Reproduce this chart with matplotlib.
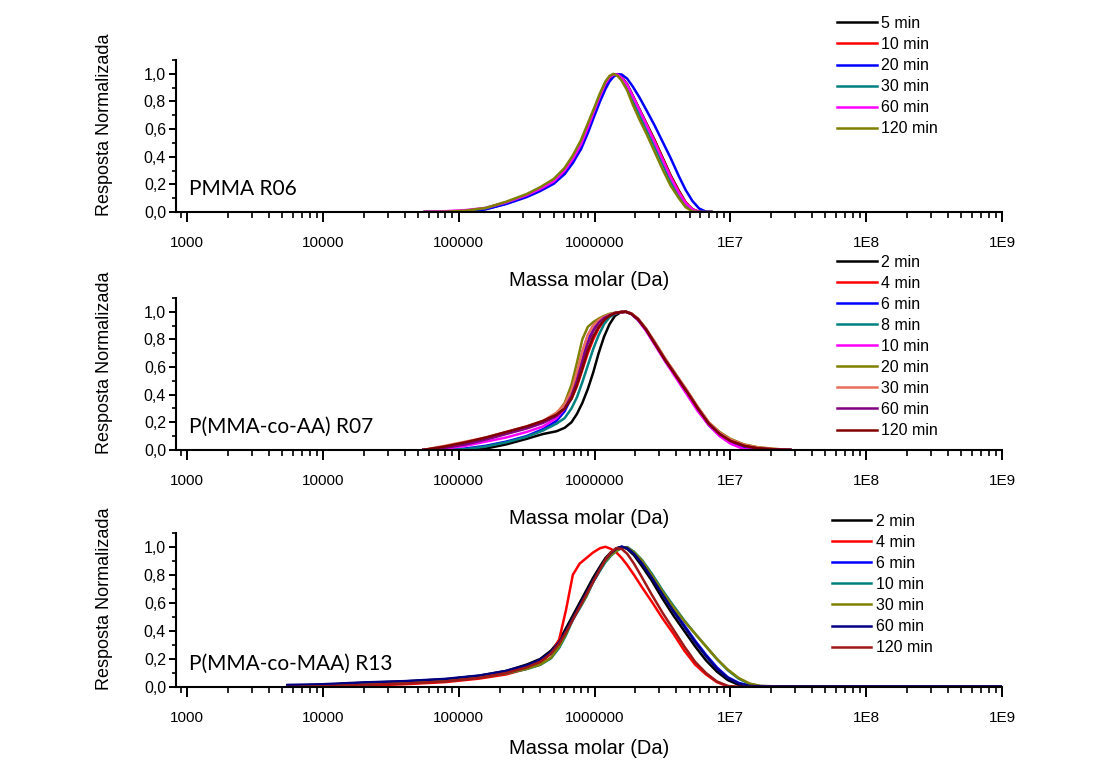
import numpy as np
import matplotlib
matplotlib.use("Agg")
import matplotlib.pyplot as plt
from matplotlib.ticker import LogLocator, FixedLocator, MultipleLocator, FuncFormatter, NullFormatter

plt.rcParams['font.family'] = ['Liberation Sans', 'DejaVu Sans']

# ---------------- Data (x in log10 of molar mass, Da) ----------------
# Panel 1: PMMA R06
logM_r06 = [4.75, 4.90, 5.05, 5.20, 5.35, 5.50, 5.60, 5.70, 5.78, 5.84, 5.90, 5.95,
            6.00, 6.04, 6.08, 6.11, 6.14, 6.17, 6.20, 6.24, 6.28, 6.33, 6.38, 6.44,
            6.50, 6.56, 6.62, 6.67, 6.72, 6.77, 6.82, 6.86]
labels_r06 = ["5 min", "10 min", "20 min", "30 min", "60 min", "120 min"]
r06_5min = [0, 0, 0.004, 0.022, 0.062, 0.115, 0.16, 0.215, 0.29, 0.375, 0.48, 0.60,
            0.73, 0.83, 0.92, 0.97, 0.993, 0.998, 0.975, 0.925, 0.845, 0.745, 0.645, 0.525,
            0.395, 0.265, 0.155, 0.07, 0.02, 0, 0, 0]
r06_10min = [0, 0, 0.005, 0.025, 0.065, 0.12, 0.165, 0.22, 0.30, 0.385, 0.49, 0.61,
             0.74, 0.84, 0.93, 0.975, 0.995, 0.995, 0.97, 0.92, 0.84, 0.74, 0.64, 0.52,
             0.39, 0.26, 0.15, 0.07, 0.02, 0.002, 0, 0]
r06_20min = [0, 0, 0, 0.02, 0.058, 0.108, 0.152, 0.205, 0.275, 0.355, 0.455, 0.57,
             0.70, 0.80, 0.89, 0.945, 0.98, 0.998, 0.995, 0.965, 0.91, 0.83, 0.74, 0.63,
             0.51, 0.39, 0.26, 0.16, 0.08, 0.025, 0.003, 0]
r06_30min = [0, 0, 0.008, 0.028, 0.07, 0.125, 0.17, 0.23, 0.31, 0.40, 0.51, 0.63,
             0.75, 0.85, 0.94, 0.98, 0.998, 0.99, 0.96, 0.90, 0.81, 0.70, 0.60, 0.48,
             0.35, 0.22, 0.12, 0.05, 0.01, 0, 0, 0]
r06_60min = [0.002, 0.006, 0.014, 0.03, 0.07, 0.122, 0.167, 0.222, 0.30, 0.385, 0.49, 0.61,
             0.74, 0.84, 0.93, 0.975, 0.995, 0.995, 0.97, 0.92, 0.84, 0.74, 0.635, 0.51,
             0.38, 0.25, 0.14, 0.065, 0.018, 0, 0, 0]
r06_120min = [0, 0.002, 0.01, 0.03, 0.075, 0.13, 0.18, 0.24, 0.32, 0.41, 0.52, 0.64,
              0.76, 0.86, 0.945, 0.985, 1.0, 0.985, 0.95, 0.88, 0.78, 0.67, 0.57, 0.44,
              0.31, 0.19, 0.10, 0.035, 0.005, 0, 0, 0]

# Panel 2: P(MMA-co-AA) R07
logM_r07 = [4.74, 4.90, 5.05, 5.20, 5.35, 5.50, 5.62, 5.72, 5.78, 5.83, 5.87, 5.91,
            5.95, 5.99, 6.03, 6.07, 6.11, 6.15, 6.19, 6.23, 6.27, 6.32, 6.38, 6.45,
            6.52, 6.60, 6.68, 6.76, 6.84, 6.92, 7.00, 7.10, 7.20, 7.32, 7.44]
labels_r07 = ["2 min", "4 min", "6 min", "8 min", "10 min", "20 min", "30 min", "60 min", "120 min"]
r07_2min = [0, 0, 0, 0.01, 0.04, 0.08, 0.115, 0.135, 0.16, 0.20, 0.26, 0.34,
            0.44, 0.56, 0.70, 0.82, 0.91, 0.97, 0.995, 1.0, 0.985, 0.945, 0.87, 0.76,
            0.65, 0.535, 0.42, 0.30, 0.19, 0.115, 0.065, 0.028, 0.011, 0.004, 0]
r07_4min = [0, 0.02, 0.05, 0.085, 0.125, 0.165, 0.205, 0.25, 0.30, 0.37, 0.46, 0.58,
            0.70, 0.80, 0.88, 0.935, 0.97, 0.99, 0.998, 1.0, 0.985, 0.945, 0.87, 0.76,
            0.65, 0.535, 0.42, 0.30, 0.19, 0.115, 0.065, 0.03, 0.012, 0.004, 0]
r07_6min = [0, 0, 0.01, 0.03, 0.06, 0.10, 0.15, 0.21, 0.28, 0.38, 0.52, 0.68,
            0.81, 0.89, 0.935, 0.965, 0.98, 0.99, 0.997, 1.0, 0.985, 0.94, 0.865, 0.755,
            0.645, 0.53, 0.41, 0.29, 0.18, 0.105, 0.055, 0.02, 0.005, 0, 0]
r07_8min = [0, 0, 0.005, 0.025, 0.055, 0.095, 0.14, 0.19, 0.23, 0.30, 0.38, 0.49,
            0.61, 0.73, 0.83, 0.91, 0.96, 0.985, 0.997, 1.0, 0.985, 0.945, 0.87, 0.76,
            0.65, 0.535, 0.42, 0.30, 0.19, 0.115, 0.065, 0.028, 0.01, 0.002, 0]
r07_10min = [0, 0.01, 0.03, 0.06, 0.09, 0.13, 0.17, 0.23, 0.30, 0.41, 0.55, 0.71,
             0.83, 0.90, 0.94, 0.965, 0.98, 0.99, 0.997, 1.0, 0.985, 0.94, 0.86, 0.75,
             0.64, 0.52, 0.40, 0.28, 0.18, 0.10, 0.045, 0.005, 0, 0, 0]
r07_20min = [0, 0.02, 0.05, 0.08, 0.12, 0.16, 0.20, 0.26, 0.34, 0.47, 0.63, 0.80,
             0.89, 0.925, 0.95, 0.97, 0.985, 0.993, 0.998, 1.0, 0.988, 0.95, 0.875, 0.77,
             0.66, 0.545, 0.43, 0.31, 0.20, 0.13, 0.08, 0.04, 0.02, 0.008, 0]
r07_30min = [0, 0.03, 0.06, 0.09, 0.13, 0.17, 0.21, 0.27, 0.33, 0.43, 0.56, 0.71,
             0.83, 0.90, 0.94, 0.965, 0.98, 0.99, 0.997, 1.0, 0.988, 0.95, 0.875, 0.77,
             0.66, 0.545, 0.43, 0.31, 0.20, 0.125, 0.075, 0.037, 0.018, 0.007, 0]
r07_60min = [0, 0.015, 0.04, 0.075, 0.115, 0.155, 0.195, 0.245, 0.30, 0.39, 0.50, 0.64,
             0.77, 0.86, 0.92, 0.955, 0.975, 0.99, 0.997, 1.0, 0.985, 0.945, 0.87, 0.76,
             0.65, 0.535, 0.42, 0.30, 0.19, 0.115, 0.065, 0.028, 0.011, 0.004, 0]
r07_120min = [0, 0.025, 0.055, 0.09, 0.13, 0.17, 0.21, 0.255, 0.30, 0.37, 0.47, 0.59,
              0.72, 0.82, 0.89, 0.94, 0.97, 0.99, 0.997, 1.0, 0.985, 0.945, 0.87, 0.76,
              0.65, 0.535, 0.42, 0.30, 0.19, 0.115, 0.065, 0.03, 0.012, 0.004, 0]

# Panel 3: P(MMA-co-MAA) R13
logM_r13 = [3.74, 4.00, 4.30, 4.60, 4.90, 5.15, 5.35, 5.50, 5.60, 5.68, 5.74, 5.79,
            5.84, 5.89, 5.94, 5.99, 6.04, 6.08, 6.12, 6.16, 6.20, 6.24, 6.29, 6.35,
            6.42, 6.50, 6.58, 6.66, 6.74, 6.82, 6.90, 6.98, 7.06, 7.14, 7.22, 7.40,
            8.00, 8.50, 9.00]
labels_r13 = ["2 min", "4 min", "6 min", "10 min", "30 min", "60 min", "120 min"]
r13_2min = [0.005, 0.015, 0.03, 0.04, 0.055, 0.08, 0.115, 0.16, 0.20, 0.26, 0.33, 0.42,
            0.51, 0.60, 0.69, 0.78, 0.86, 0.92, 0.96, 0.99, 1.0, 0.985, 0.94, 0.86,
            0.76, 0.63, 0.51, 0.40, 0.29, 0.19, 0.11, 0.05, 0.015, 0.003, 0, 0,
            0, 0, 0]
r13_4min = [0, 0, 0.01, 0.02, 0.035, 0.06, 0.09, 0.13, 0.17, 0.24, 0.34, 0.55,
            0.80, 0.88, 0.92, 0.96, 0.99, 1.0, 0.985, 0.96, 0.92, 0.87, 0.80, 0.71,
            0.61, 0.49, 0.38, 0.26, 0.16, 0.09, 0.035, 0.005, 0, 0, 0, 0,
            0, 0, 0]
r13_6min = [0.01, 0.015, 0.028, 0.036, 0.05, 0.075, 0.105, 0.145, 0.19, 0.24, 0.31, 0.39,
            0.48, 0.57, 0.66, 0.75, 0.835, 0.90, 0.95, 0.985, 1.0, 0.99, 0.955, 0.89,
            0.79, 0.67, 0.55, 0.44, 0.33, 0.23, 0.14, 0.07, 0.03, 0.01, 0.006, 0.005,
            0.005, 0.005, 0.005]
r13_10min = [0.008, 0.012, 0.022, 0.03, 0.042, 0.068, 0.098, 0.128, 0.158, 0.205, 0.28, 0.37,
             0.48, 0.56, 0.645, 0.75, 0.83, 0.89, 0.935, 0.97, 0.99, 0.998, 0.965, 0.905,
             0.81, 0.69, 0.58, 0.475, 0.38, 0.29, 0.20, 0.12, 0.06, 0.022, 0.007, 0.003,
             0.003, 0.003, 0.003]
r13_30min = [0.01, 0.015, 0.025, 0.03, 0.045, 0.07, 0.10, 0.13, 0.16, 0.21, 0.29, 0.38,
             0.49, 0.57, 0.65, 0.76, 0.84, 0.90, 0.94, 0.97, 0.995, 0.995, 0.96, 0.90,
             0.80, 0.68, 0.57, 0.47, 0.38, 0.29, 0.20, 0.125, 0.065, 0.025, 0.008, 0.003,
             0, 0, 0]
r13_60min = [0.015, 0.02, 0.033, 0.042, 0.058, 0.082, 0.115, 0.155, 0.195, 0.25, 0.32, 0.40,
             0.49, 0.58, 0.67, 0.76, 0.845, 0.91, 0.955, 0.985, 1.0, 0.99, 0.95, 0.88,
             0.78, 0.66, 0.54, 0.43, 0.32, 0.22, 0.13, 0.065, 0.025, 0.008, 0.005, 0.005,
             0.005, 0.005, 0.005]
r13_120min = [0, 0.005, 0.015, 0.025, 0.04, 0.065, 0.10, 0.14, 0.18, 0.24, 0.31, 0.39,
              0.48, 0.57, 0.66, 0.75, 0.84, 0.91, 0.96, 0.99, 0.985, 0.95, 0.88, 0.78,
              0.66, 0.53, 0.41, 0.29, 0.18, 0.10, 0.04, 0.008, 0, 0, 0, 0,
              0, 0, 0]

# ---------------- Styling ----------------
colors_r06 = ['#000000', '#ff0000', '#0000ff', '#008080', '#ff00ff', '#808000']
colors_r07 = ['#000000', '#ff0000', '#0000ff', '#008080', '#ff00ff', '#808000',
              '#e8705a', '#800080', '#800000']
colors_r13 = ['#000000', '#ff0000', '#0000ff', '#008080', '#808000', '#000080', '#a01818']

panels = [
    dict(logM=logM_r06, series=[r06_5min, r06_10min, r06_20min, r06_30min, r06_60min, r06_120min],
         labels=labels_r06, colors=colors_r06, name="PMMA R06",
         rect=[0.160, 0.721, 0.752, 0.200], leg=(0.762, 0.979), xl=-0.45),
    dict(logM=logM_r07, series=[r07_2min, r07_4min, r07_6min, r07_8min, r07_10min, r07_20min,
                                r07_30min, r07_60min, r07_120min],
         labels=labels_r07, colors=colors_r07, name="P(MMA-co-AA) R07",
         rect=[0.160, 0.408, 0.752, 0.200], leg=(0.762, 0.665), xl=-0.45),
    dict(logM=logM_r13, series=[r13_2min, r13_4min, r13_6min, r13_10min, r13_30min,
                                r13_60min, r13_120min],
         labels=labels_r13, colors=colors_r13, name="P(MMA-co-MAA) R13",
         rect=[0.160, 0.096, 0.752, 0.203], leg=(0.757, 0.324), xl=-0.40),
]

xtick_vals = [1e3, 1e4, 1e5, 1e6, 1e7, 1e8, 1e9]
xtick_labels = ["1000", "10000", "100000", "1000000", "1E7", "1E8", "1E9"]

fig = plt.figure(figsize=(10.99, 7.60), dpi=100)

for p in panels:
    ax = fig.add_axes(p['rect'])
    x = 10 ** np.array(p['logM'])
    for ys, c, lab in zip(p['series'], p['colors'], p['labels']):
        ax.plot(x, ys, color=c, lw=1.8, label=lab, solid_joinstyle='round')
    ax.set_xscale('log')
    ax.set_xlim(830, 1e9)
    ax.set_ylim(0, 1.1)
    for s in ['top', 'right']:
        ax.spines[s].set_visible(False)
    for s in ['left', 'bottom']:
        ax.spines[s].set_linewidth(1.5)
        ax.spines[s].set_zorder(5)
    ax.xaxis.set_major_locator(FixedLocator(xtick_vals))
    ax.set_xticklabels(xtick_labels)
    ax.xaxis.set_minor_locator(LogLocator(base=10, subs=np.arange(2, 10), numticks=20))
    ax.xaxis.set_minor_formatter(NullFormatter())
    ax.yaxis.set_major_locator(MultipleLocator(0.2))
    ax.yaxis.set_minor_locator(MultipleLocator(0.1))
    ax.yaxis.set_major_formatter(FuncFormatter(lambda v, pos: f"{v:.1f}".replace('.', ',')))
    ax.tick_params(axis='x', which='major', direction='out', length=7, width=1.4,
                   labelsize=11, pad=10)
    ax.tick_params(axis='x', which='minor', direction='out', length=4, width=1.2)
    ax.tick_params(axis='y', which='major', direction='out', length=5, width=1.4,
                   labelsize=11.5, pad=2)
    ax.tick_params(axis='y', which='minor', direction='out', length=3, width=1.2)
    ax.set_xlabel("Massa molar (Da)", fontsize=14.5)
    ax.xaxis.set_label_coords(0.5, p['xl'])
    ax.xaxis.label.set_va('center')
    ax.set_ylabel("Resposta Normalizada", fontsize=13)
    ax.yaxis.set_label_coords(-0.086, 0.575)
    ax.yaxis.label.set_va('center')
    ax.text(0.016, 0.15, p['name'], transform=ax.transAxes, fontsize=15,
            family=['Lato', 'DejaVu Sans'], va='center', ha='left')
    ax.patch.set_alpha(0)
    fig.legend(handles=ax.get_lines(), labels=p['labels'], loc='upper left',
               bbox_to_anchor=p['leg'], frameon=False, fontsize=11.5,
               handlelength=2.45, handletextpad=0.3, labelspacing=0.38,
               borderpad=0, borderaxespad=0)

fig.savefig("out.png", dpi=100)
